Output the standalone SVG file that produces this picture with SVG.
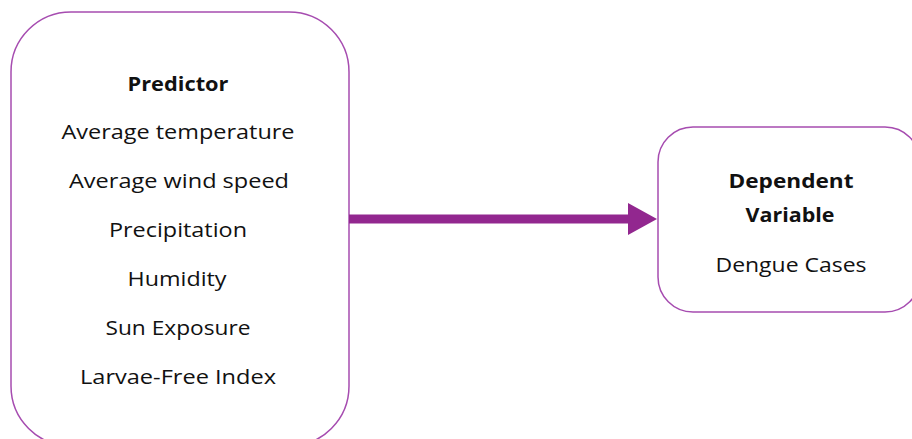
<svg xmlns="http://www.w3.org/2000/svg" width="912" height="439" viewBox="0 0 912 439">
<style>
.box{fill:#fff;stroke:#A64CB0;stroke-width:1.5}
.t{font-family:"Open Sans","Noto Sans","Liberation Sans",sans-serif;font-size:20px;fill:#111;text-anchor:middle}
.b{font-weight:bold}
</style>
<rect width="912" height="439" fill="#fff"/>
<g id="predictor">
<rect class="box" x="11" y="12" width="338" height="434" rx="60"/>
<text class="t b" x="178" y="91" textLength="101" lengthAdjust="spacingAndGlyphs">Predictor</text>
<text class="t" x="178" y="139" textLength="233" lengthAdjust="spacingAndGlyphs">Average  temperature</text>
<text class="t" x="179" y="188" textLength="220" lengthAdjust="spacingAndGlyphs">Average  wind speed</text>
<text class="t" x="178" y="237" textLength="138" lengthAdjust="spacingAndGlyphs">Precipitation</text>
<text class="t" x="177" y="286" textLength="99" lengthAdjust="spacingAndGlyphs">Humidity</text>
<text class="t" x="178" y="335" textLength="145" lengthAdjust="spacingAndGlyphs">Sun Exposure</text>
<text class="t" x="178" y="384" textLength="196" lengthAdjust="spacingAndGlyphs">Larvae-Free  Index</text>
</g>
<g id="dependent">
<rect class="box" x="658" y="127" width="262" height="185" rx="35"/>
<text class="t b" x="791" y="188" textLength="125" lengthAdjust="spacingAndGlyphs">Dependent</text>
<text class="t b" x="790" y="222" textLength="89" lengthAdjust="spacingAndGlyphs">Variable</text>
<text class="t" x="791" y="272" textLength="151" lengthAdjust="spacingAndGlyphs">Dengue  Cases</text>
</g>
<g id="connectors">
<path d="M349 214.5 H628 V203 L657 219 L628 235 V223.5 H349 Z" fill="#92278F"/>
</g>
</svg>
